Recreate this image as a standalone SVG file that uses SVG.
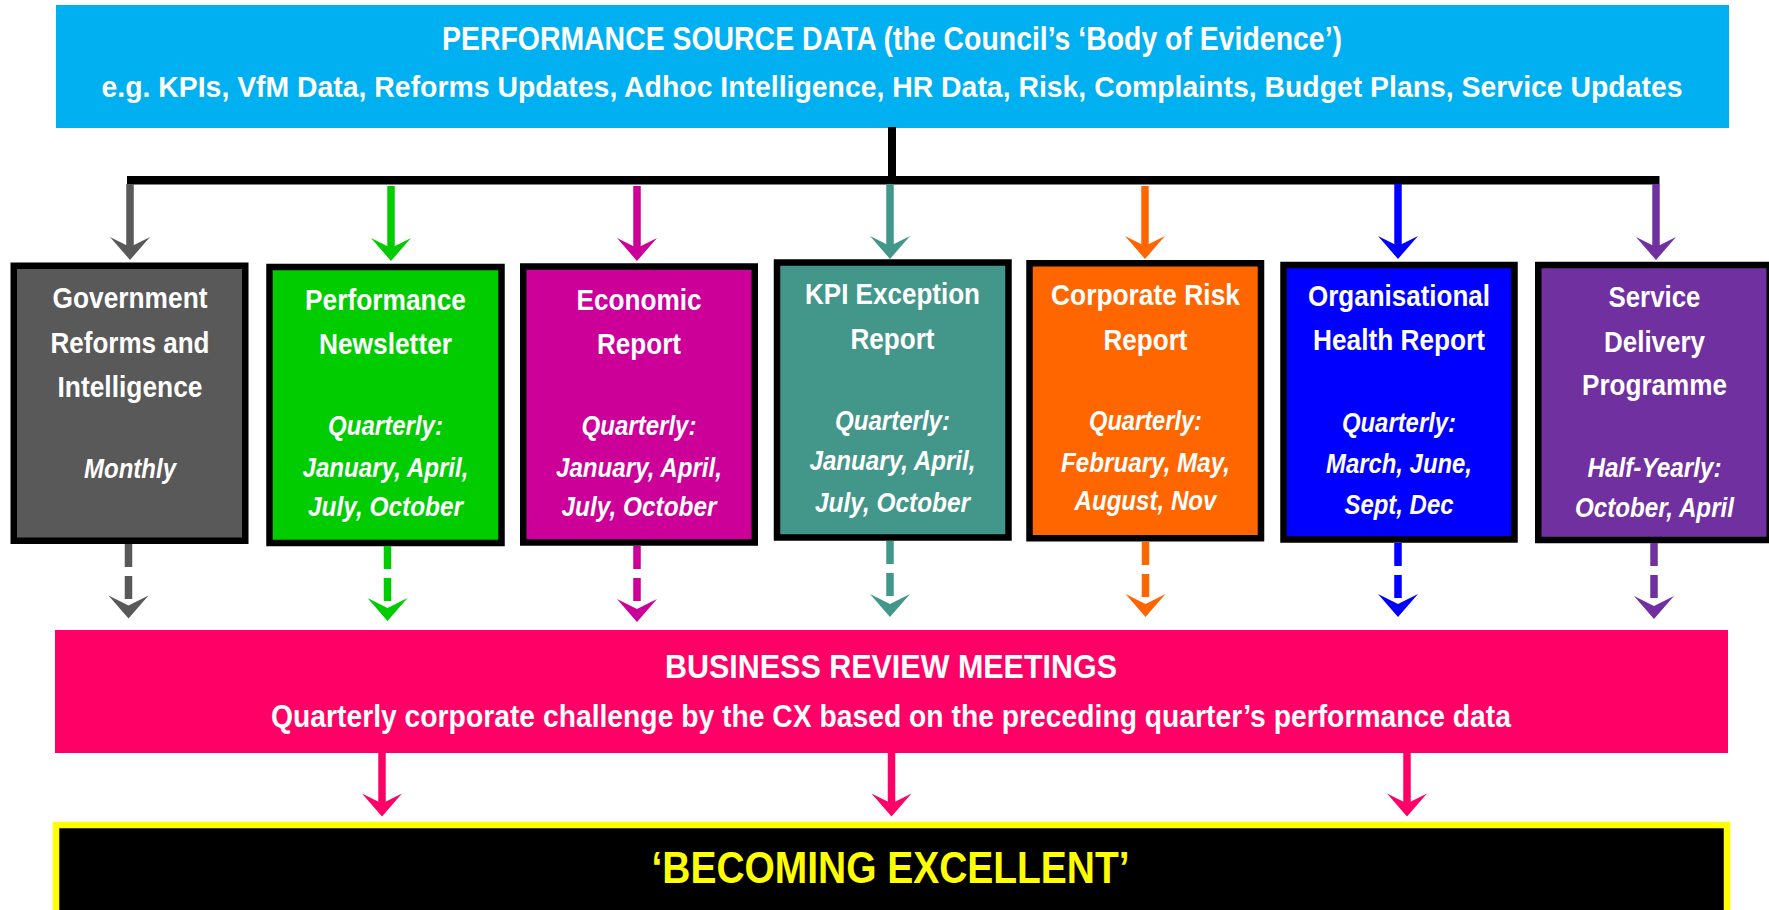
<svg xmlns="http://www.w3.org/2000/svg" xmlns:xlink="http://www.w3.org/1999/xlink" width="1769" height="910" viewBox="0 0 1769 910">
<style>
text{font-family:"Liberation Sans",Arial,sans-serif;font-weight:bold;text-anchor:middle;fill:#fff}
.t{font-size:30px}
.i{font-size:28.5px;font-style:italic}
.box{stroke:#000;stroke-width:6.5}
.sh{stroke-width:7.5;fill:none}
.dash{stroke-dasharray:23 9}
</style>
<defs>
<path id="ah" d="M0,0 L-20,-23 L0,-13 L20,-23 Z"/>
</defs>
<rect width="1769" height="910" fill="#fff"/>

<g id="source">
<rect x="56" y="5" width="1673" height="123" fill="#00B0F0"/>
<text x="892" y="50" style="font-size:32.5px" textLength="900" lengthAdjust="spacingAndGlyphs">PERFORMANCE SOURCE DATA (the Council’s ‘Body of Evidence’)</text>
<text x="892" y="97" style="font-size:29.5px" textLength="1581" lengthAdjust="spacingAndGlyphs">e.g. KPIs, VfM Data, Reforms Updates, Adhoc Intelligence, HR Data, Risk, Complaints, Budget Plans, Service Updates</text>
</g>

<g id="gov">
<rect class="box" x="13.75" y="265.75" width="231.5" height="275" fill="#595959"/>
<text class="t" x="130" y="308" textLength="155" lengthAdjust="spacingAndGlyphs">Government</text>
<text class="t" x="130" y="352.5" textLength="159" lengthAdjust="spacingAndGlyphs">Reforms and</text>
<text class="t" x="130" y="396.5" textLength="145" lengthAdjust="spacingAndGlyphs">Intelligence</text>
<text class="i" x="130" y="478" textLength="92" lengthAdjust="spacingAndGlyphs">Monthly</text>
</g>

<g id="newsletter">
<rect class="box" x="269.5" y="267" width="232" height="276" fill="#00CC00"/>
<text class="t" x="385.5" y="310" textLength="161" lengthAdjust="spacingAndGlyphs">Performance</text>
<text class="t" x="385.5" y="354" textLength="133" lengthAdjust="spacingAndGlyphs">Newsletter</text>
<text class="i" x="385.5" y="435" textLength="115" lengthAdjust="spacingAndGlyphs">Quarterly:</text>
<text class="i" x="385.5" y="476.5" textLength="166" lengthAdjust="spacingAndGlyphs">January, April,</text>
<text class="i" x="385.5" y="515.5" textLength="155" lengthAdjust="spacingAndGlyphs">July, October</text>
</g>

<g id="economic">
<rect class="box" x="523.25" y="266.5" width="231.5" height="276" fill="#CC0099"/>
<text class="t" x="639" y="310" textLength="125" lengthAdjust="spacingAndGlyphs">Economic</text>
<text class="t" x="639" y="354" textLength="84" lengthAdjust="spacingAndGlyphs">Report</text>
<text class="i" x="639" y="435" textLength="115" lengthAdjust="spacingAndGlyphs">Quarterly:</text>
<text class="i" x="639" y="476.5" textLength="166" lengthAdjust="spacingAndGlyphs">January, April,</text>
<text class="i" x="639" y="515.5" textLength="155" lengthAdjust="spacingAndGlyphs">July, October</text>
</g>

<g id="kpi">
<rect class="box" x="777" y="262.5" width="231.5" height="275" fill="#43978A"/>
<text class="t" x="892.5" y="304" textLength="175" lengthAdjust="spacingAndGlyphs">KPI Exception</text>
<text class="t" x="892.5" y="348.5" textLength="84" lengthAdjust="spacingAndGlyphs">Report</text>
<text class="i" x="892.5" y="430" textLength="115" lengthAdjust="spacingAndGlyphs">Quarterly:</text>
<text class="i" x="892.5" y="470" textLength="166" lengthAdjust="spacingAndGlyphs">January, April,</text>
<text class="i" x="892.5" y="511.5" textLength="155" lengthAdjust="spacingAndGlyphs">July, October</text>
</g>

<g id="risk">
<rect class="box" x="1029.5" y="263.25" width="231.5" height="275" fill="#FF6600"/>
<text class="t" x="1145.5" y="305" textLength="189" lengthAdjust="spacingAndGlyphs">Corporate Risk</text>
<text class="t" x="1145.5" y="349.5" textLength="84" lengthAdjust="spacingAndGlyphs">Report</text>
<text class="i" x="1145.5" y="430" textLength="113" lengthAdjust="spacingAndGlyphs">Quarterly:</text>
<text class="i" x="1145.5" y="471.5" textLength="169" lengthAdjust="spacingAndGlyphs">February, May,</text>
<text class="i" x="1145.5" y="510" textLength="142" lengthAdjust="spacingAndGlyphs">August, Nov</text>
</g>

<g id="orghealth">
<rect class="box" x="1283.5" y="265" width="231" height="274.5" fill="#0000FF"/>
<text class="t" x="1399" y="306" textLength="182" lengthAdjust="spacingAndGlyphs">Organisational</text>
<text class="t" x="1399" y="350" textLength="172" lengthAdjust="spacingAndGlyphs">Health Report</text>
<text class="i" x="1399" y="431.5" textLength="114" lengthAdjust="spacingAndGlyphs">Quarterly:</text>
<text class="i" x="1399" y="472.5" textLength="146" lengthAdjust="spacingAndGlyphs">March, June,</text>
<text class="i" x="1399" y="513.5" textLength="109" lengthAdjust="spacingAndGlyphs">Sept, Dec</text>
</g>

<g id="service">
<rect class="box" x="1538.25" y="265" width="231.5" height="275" fill="#7030A0"/>
<text class="t" x="1654.5" y="307" textLength="92" lengthAdjust="spacingAndGlyphs">Service</text>
<text class="t" x="1654.5" y="351.5" textLength="101" lengthAdjust="spacingAndGlyphs">Delivery</text>
<text class="t" x="1654.5" y="395" textLength="145" lengthAdjust="spacingAndGlyphs">Programme</text>
<text class="i" x="1654.5" y="476.5" textLength="134" lengthAdjust="spacingAndGlyphs">Half-Yearly:</text>
<text class="i" x="1654.5" y="516.5" textLength="159" lengthAdjust="spacingAndGlyphs">October, April</text>
</g>

<g id="review">
<rect x="55" y="630" width="1673" height="123" fill="#FF0066"/>
<text x="891" y="678" style="font-size:34px" textLength="452" lengthAdjust="spacingAndGlyphs">BUSINESS REVIEW MEETINGS</text>
<text x="891" y="726.5" style="font-size:31px" textLength="1240" lengthAdjust="spacingAndGlyphs">Quarterly corporate challenge by the CX based on the preceding quarter’s performance data</text>
</g>

<g id="excellent">
<rect x="56" y="825" width="1671" height="120" fill="#000" stroke="#FFFF00" stroke-width="6.5"/>
<text x="890.5" y="883" style="font-size:45px;fill:#FFFF00" textLength="478" lengthAdjust="spacingAndGlyphs">‘BECOMING EXCELLENT’</text>
</g>

<g id="connectors">
<rect x="888" y="127" width="8" height="57" fill="#000"/>
<rect x="127" y="176" width="1532.5" height="8.5" fill="#000"/>

<line class="sh" x1="130" y1="184" x2="130" y2="249" stroke="#595959"/>
<use xlink:href="#ah" x="130" y="260" fill="#595959"/>
<line class="sh" x1="391" y1="186" x2="391" y2="249" stroke="#00CC00"/>
<use xlink:href="#ah" x="391" y="261" fill="#00CC00"/>
<line class="sh" x1="637" y1="186" x2="637" y2="249" stroke="#CC0099"/>
<use xlink:href="#ah" x="637" y="261" fill="#CC0099"/>
<line class="sh" x1="890" y1="184" x2="890" y2="248" stroke="#43978A"/>
<use xlink:href="#ah" x="890" y="259" fill="#43978A"/>
<line class="sh" x1="1145" y1="186" x2="1145" y2="248" stroke="#FF6600"/>
<use xlink:href="#ah" x="1145" y="259" fill="#FF6600"/>
<line class="sh" x1="1398" y1="184" x2="1398" y2="248" stroke="#0000FF"/>
<use xlink:href="#ah" x="1398" y="259" fill="#0000FF"/>
<line class="sh" x1="1656" y1="184" x2="1656" y2="249" stroke="#7030A0"/>
<use xlink:href="#ah" x="1656" y="260" fill="#7030A0"/>

<line class="sh dash" x1="128.5" y1="544" x2="128.5" y2="607" stroke="#595959"/>
<use xlink:href="#ah" x="128.5" y="618.5" fill="#595959"/>
<line class="sh dash" x1="387.5" y1="546" x2="387.5" y2="610" stroke="#00CC00"/>
<use xlink:href="#ah" x="387.5" y="621" fill="#00CC00"/>
<line class="sh dash" x1="637" y1="546" x2="637" y2="611" stroke="#CC0099"/>
<use xlink:href="#ah" x="637" y="622" fill="#CC0099"/>
<line class="sh dash" x1="890" y1="541" x2="890" y2="606" stroke="#43978A"/>
<use xlink:href="#ah" x="890" y="617" fill="#43978A"/>
<line class="sh dash" x1="1145.5" y1="542" x2="1145.5" y2="606" stroke="#FF6600"/>
<use xlink:href="#ah" x="1145.5" y="617" fill="#FF6600"/>
<line class="sh dash" x1="1398" y1="543" x2="1398" y2="606" stroke="#0000FF"/>
<use xlink:href="#ah" x="1398" y="617" fill="#0000FF"/>
<line class="sh dash" x1="1654" y1="543" x2="1654" y2="608" stroke="#7030A0"/>
<use xlink:href="#ah" x="1654" y="619" fill="#7030A0"/>

<line class="sh" x1="382" y1="753" x2="382" y2="805" stroke="#FF0066"/>
<use xlink:href="#ah" x="382" y="816.5" fill="#FF0066"/>
<line class="sh" x1="891.5" y1="753" x2="891.5" y2="805" stroke="#FF0066"/>
<use xlink:href="#ah" x="891.5" y="816.5" fill="#FF0066"/>
<line class="sh" x1="1407" y1="753" x2="1407" y2="805" stroke="#FF0066"/>
<use xlink:href="#ah" x="1407" y="816.5" fill="#FF0066"/>
</g>
</svg>
